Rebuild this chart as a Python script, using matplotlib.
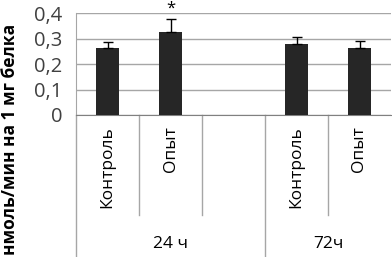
import matplotlib.pyplot as plt
import matplotlib.transforms as mtransforms

# данные
categories = ['Контроль', 'Опыт', '', 'Контроль', 'Опыт']
values = [0.265, 0.328, None, 0.278, 0.265]
errors = [0.024, 0.050, None, 0.030, 0.028]
groups = ['24 ч', '72ч']
group_centers = [1.0, 3.5]
yticks = [0, 0.1, 0.2, 0.3, 0.4]
ytick_labels = ['0', '0,1', '0,2', '0,3', '0,4']

plt.rcParams['font.family'] = ['Open Sans', 'DejaVu Sans']

fig = plt.figure(figsize=(3.92, 2.57), dpi=100)
ax = fig.add_axes([76 / 392, 1 - 115 / 257, (391 - 76) / 392, (115 - 13.3) / 257])

xs = [i for i, v in enumerate(values) if v is not None]
vals = [values[i] for i in xs]
errs = [errors[i] for i in xs]
ax.bar(xs, vals, width=0.38, color='#262626', zorder=3)
ax.errorbar(xs, vals, yerr=[[0] * len(errs), errs], fmt='none', ecolor='black',
            elinewidth=1, capsize=3.5, capthick=1, zorder=4)

# звёздочка над вторым столбцом
ax.text(1, values[1] + errors[1] + 0.008, '*', ha='center', va='bottom', fontsize=12)

ax.set_xlim(-0.5, len(categories) - 0.5)
ax.set_ylim(0, 0.4)
ax.set_yticks(yticks)
ax.set_yticklabels(ytick_labels, fontsize=14.5, color='#404040')
ax.tick_params(axis='y', length=0, pad=10)
ax.set_xticks([])
ax.grid(axis='y', color='#a6a6a6', linewidth=1, zorder=0)
for s in ['top', 'right']:
    ax.spines[s].set_visible(False)
ax.spines['left'].set_color('#a6a6a6')
ax.spines['bottom'].set_color('#808080')

trans = mtransforms.blended_transform_factory(ax.transData, ax.transAxes)

# подписи категорий
for i, c in enumerate(categories):
    if c:
        ax.text(i, -0.11, c, rotation=90, ha='center', va='top', fontsize=12.5,
                transform=trans)

# разделители
for x in [0.5, 1.5, 3.5]:
    ax.plot([x, x], [0, -0.985], color='#a6a6a6', linewidth=1, transform=trans, clip_on=False)
for x in [-0.5, 2.5]:
    ax.plot([x, x], [0, -1.4], color='#a6a6a6', linewidth=1, transform=trans, clip_on=False)

# подписи групп
for g, xc in zip(groups, group_centers):
    ax.text(xc, -1.265, g, ha='center', va='center', fontsize=12.5, transform=trans)

fig.text(10 / 392, 1 - 139 / 257, 'нмоль/мин на 1 мг белка', rotation=90, ha='center',
         va='center', fontsize=12.5, fontweight='bold')

fig.savefig('out.png', dpi=100)
